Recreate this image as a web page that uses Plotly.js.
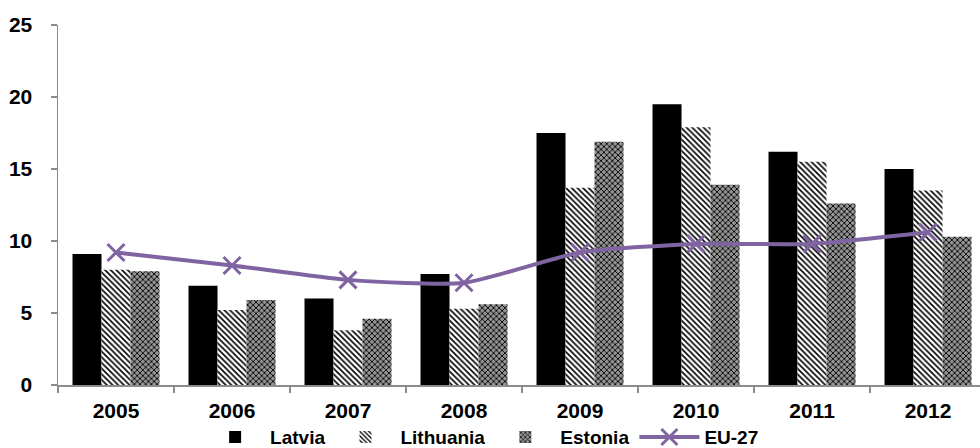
<!DOCTYPE html>
<html>
<head>
<meta charset="utf-8">
<script src="https://cdn.plot.ly/plotly-3.0.1.min.js"></script>
<style>
  html, body { margin: 0; padding: 0; background: #fff; }
  #chart { width: 980px; height: 448px; }
</style>
</head>
<body>
<div id="chart"></div>
<script>
const years = ['2005', '2006', '2007', '2008', '2009', '2010', '2011', '2012'];
const latvia = [9.1, 6.9, 6.0, 7.7, 17.5, 19.5, 16.2, 15.0];
const lithuania = [8.0, 5.2, 3.8, 5.3, 13.7, 17.9, 15.5, 13.5];
const estonia = [7.9, 5.9, 4.6, 5.6, 16.9, 13.9, 12.6, 10.3];
const eu27 = [9.2, 8.3, 7.3, 7.1, 9.2, 9.8, 9.8, 10.6];
const yTicks = [0, 5, 10, 15, 20, 25];

const tickFont = { family: 'Liberation Sans, Arial, sans-serif', size: 21, color: '#000', weight: 'bold' };
const legendFont = { family: 'Liberation Sans, Arial, sans-serif', size: 19, color: '#000', weight: 'bold' };

const traces = [
  {
    type: 'bar', name: 'Latvia', x: years, y: latvia,
    marker: { color: '#000000', line: { width: 0 } }
  },
  {
    type: 'bar', name: 'Lithuania', x: years, y: lithuania,
    marker: { color: '#ffffff', line: { width: 0 },
      pattern: { shape: '\\', fgcolor: '#000000', bgcolor: '#ffffff', size: 4, solidity: 0.4 } }
  },
  {
    type: 'bar', name: 'Estonia', x: years, y: estonia,
    marker: { color: '#707070', line: { width: 0 },
      pattern: { shape: 'x', fgcolor: '#000000', bgcolor: '#949494', size: 4, solidity: 0.4 } }
  },
  {
    type: 'scatter', mode: 'lines+markers', name: 'EU-27', x: years, y: eu27,
    line: { color: '#8064A2', width: 4, shape: 'spline', smoothing: 0.6 },
    marker: { symbol: 'x-thin-open', size: 17, color: '#8064A2', line: { color: '#8064A2', width: 3 } }
  }
];

const layout = {
  width: 980, height: 448,
  margin: { l: 58, r: 0, t: 25, b: 63, autoexpand: false },
  paper_bgcolor: '#ffffff', plot_bgcolor: '#ffffff',
  font: legendFont,
  barmode: 'group', bargap: 0.25, bargroupgap: 0,
  showlegend: true,
  legend: {
    orientation: 'h', x: 0.46, xanchor: 'center', y: -0.145, yanchor: 'middle',
    font: legendFont, itemwidth: 60, tracegroupgap: 0, traceorder: 'normal'
  },
  xaxis: {
    type: 'category', range: [-0.5, 7.448],
    showline: true, linecolor: '#8c8c8c', linewidth: 1.5,
    ticks: 'outside', tickson: 'boundaries', ticklen: 6, tickcolor: '#8c8c8c', tickwidth: 2,
    showgrid: false, zeroline: false, tickfont: tickFont, ticklabelstandoff: 6
  },
  yaxis: {
    range: [0, 25], tickvals: yTicks, ticktext: yTicks.map(String),
    showline: true, linecolor: '#8c8c8c', linewidth: 1.5,
    ticks: 'outside', ticklen: 6, tickcolor: '#8c8c8c', tickwidth: 2,
    showgrid: false, zeroline: false, tickfont: tickFont, ticklabelstandoff: 14
  }
};

Plotly.newPlot('chart', traces, layout, { displayModeBar: false, staticPlot: true });
</script>
</body>
</html>
